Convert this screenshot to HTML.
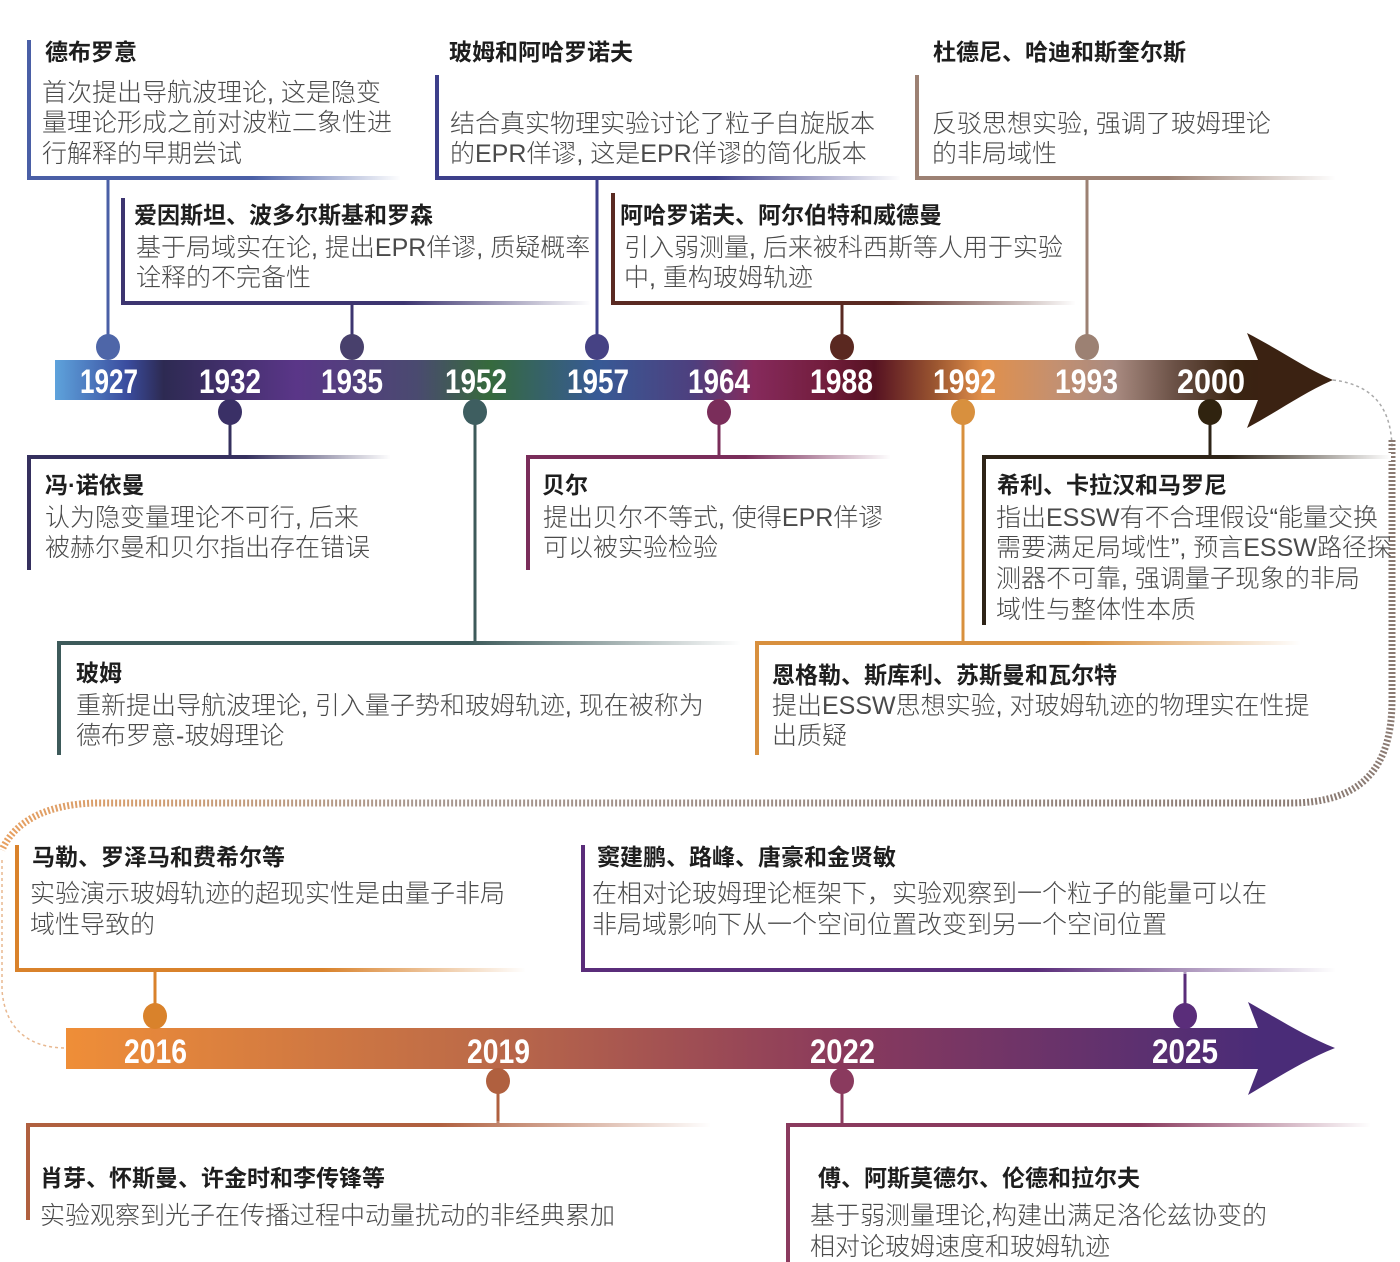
<!DOCTYPE html>
<html><head><meta charset="utf-8"><style>
html,body{margin:0;padding:0;background:#fff;}
svg{display:block;}
.t{font-family:"Liberation Sans","Noto Sans CJK SC",sans-serif;font-weight:bold;font-size:23px;fill:#1e1e1e;}
.b{font-family:"Liberation Sans","Noto Sans CJK SC",sans-serif;font-size:25px;fill:#4a4a4a;font-weight:300;}
.y{font-family:"Liberation Sans",sans-serif;font-weight:bold;font-size:34px;fill:#fff;}
</style></head><body>
<svg width="1400" height="1262" viewBox="0 0 1400 1262" xmlns="http://www.w3.org/2000/svg">
<defs>
<linearGradient id="bar1" x1="55" x2="1260" y1="0" y2="0" gradientUnits="userSpaceOnUse">
<stop offset="0" stop-color="#5ea3dc"/>
<stop offset="0.06" stop-color="#3a4c9e"/>
<stop offset="0.09" stop-color="#2d2a52"/>
<stop offset="0.2" stop-color="#5a3688"/>
<stop offset="0.3" stop-color="#4a4a70"/>
<stop offset="0.36" stop-color="#366a3c"/>
<stop offset="0.45" stop-color="#375a96"/>
<stop offset="0.53" stop-color="#4e3f7e"/>
<stop offset="0.58" stop-color="#862a5c"/>
<stop offset="0.64" stop-color="#721d3c"/>
<stop offset="0.68" stop-color="#561222"/>
<stop offset="0.73" stop-color="#9a5530"/>
<stop offset="0.77" stop-color="#e2904a"/>
<stop offset="0.83" stop-color="#c49070"/>
<stop offset="0.88" stop-color="#a88a80"/>
<stop offset="0.93" stop-color="#6a5045"/>
<stop offset="0.98" stop-color="#3a2412"/>
<stop offset="1" stop-color="#3a2212"/>
</linearGradient>
<linearGradient id="bar2" x1="66" x2="1260" y1="0" y2="0" gradientUnits="userSpaceOnUse">
<stop offset="0" stop-color="#ef8e38"/>
<stop offset="0.35" stop-color="#bc6a48"/>
<stop offset="0.65" stop-color="#8a3a5c"/>
<stop offset="1" stop-color="#4a2c78"/>
</linearGradient>
<linearGradient id="fadeR" x1="0" x2="1" y1="0" y2="0">
<stop offset="0" stop-color="#fff" stop-opacity="0"/>
<stop offset="0.6" stop-color="#fff" stop-opacity="0"/>
<stop offset="1" stop-color="#fff" stop-opacity="1"/>
</linearGradient>
<linearGradient id="dash2" x1="0" x2="1400" y1="0" y2="0" gradientUnits="userSpaceOnUse">
<stop offset="0" stop-color="#e8a060"/>
<stop offset="0.3" stop-color="#a89890"/>
<stop offset="1" stop-color="#8a7a72"/>
</linearGradient>
</defs>

<path d="M1333,380 C1375,385 1392,410 1392,450" fill="none" stroke="#aaa" stroke-width="1.5" stroke-dasharray="3 3"/>
<path d="M1392,440 L1392,700 C1392,770 1360,803 1290,803 L100,803 C50,803 15,820 2,850" fill="none" stroke="url(#dash2)" stroke-width="7" stroke-dasharray="2 2"/>
<path d="M2,860 L2,990 C5,1030 30,1048 66,1048" fill="none" stroke="#e8b890" stroke-width="1.5" stroke-dasharray="3 3"/>

<rect x="55" y="360" width="1205" height="40" fill="url(#bar1)"/>
<path d="M1258,360 L1247,333 C1280,350 1305,368 1333,380 C1305,392 1280,410 1247,428 L1258,400 Z" fill="#3b2212"/>
<rect x="66" y="1028" width="1194" height="41" fill="url(#bar2)"/>
<path d="M1258,1028 L1248,1002 C1280,1020 1305,1036 1335,1048 C1305,1060 1280,1076 1248,1095 L1258,1069 Z" fill="#4a2c78"/>

<g class="y">
<text x="80" y="393" textLength="58" lengthAdjust="spacingAndGlyphs">1927</text>
<text x="199" y="393" textLength="62" lengthAdjust="spacingAndGlyphs">1932</text>
<text x="321" y="393" textLength="62" lengthAdjust="spacingAndGlyphs">1935</text>
<text x="445" y="393" textLength="62" lengthAdjust="spacingAndGlyphs">1952</text>
<text x="567" y="393" textLength="62" lengthAdjust="spacingAndGlyphs">1957</text>
<text x="688" y="393" textLength="62" lengthAdjust="spacingAndGlyphs">1964</text>
<text x="810" y="393" textLength="63" lengthAdjust="spacingAndGlyphs">1988</text>
<text x="933" y="393" textLength="63" lengthAdjust="spacingAndGlyphs">1992</text>
<text x="1055" y="393" textLength="63" lengthAdjust="spacingAndGlyphs">1993</text>
<text x="1177" y="393" textLength="68" lengthAdjust="spacingAndGlyphs">2000</text>
<text x="124" y="1063" textLength="63" lengthAdjust="spacingAndGlyphs">2016</text>
<text x="467" y="1063" textLength="63" lengthAdjust="spacingAndGlyphs">2019</text>
<text x="810" y="1063" textLength="65" lengthAdjust="spacingAndGlyphs">2022</text>
<text x="1152" y="1063" textLength="66" lengthAdjust="spacingAndGlyphs">2025</text>
</g>

<g fill="none" stroke-width="4">
<path d="M29,40 L29,178 L400,178" stroke="#4a5fa6"/>
<line x1="108" y1="178" x2="108" y2="347" stroke="#4a5fa6" stroke-width="3"/>
<path d="M437,75 L437,178 L900,178" stroke="#3d3f8a"/>
<line x1="597" y1="178" x2="597" y2="347" stroke="#3d3f8a" stroke-width="3"/>
<path d="M917,75 L917,178 L1335,178" stroke="#9c8173"/>
<line x1="1087" y1="178" x2="1087" y2="347" stroke="#9c8173" stroke-width="3"/>
<path d="M123,198 L123,303 L590,303" stroke="#3d3570"/>
<line x1="352" y1="303" x2="352" y2="347" stroke="#3d3570" stroke-width="3"/>
<path d="M613,193 L613,303 L1075,303" stroke="#5a2a22"/>
<line x1="842" y1="303" x2="842" y2="347" stroke="#5a2a22" stroke-width="3"/>
<path d="M29,570 L29,457 L390,457" stroke="#35305e"/>
<line x1="230" y1="412" x2="230" y2="457" stroke="#35305e" stroke-width="3"/>
<path d="M528,570 L528,457 L890,457" stroke="#7a2d5a"/>
<line x1="719" y1="412" x2="719" y2="457" stroke="#7a2d5a" stroke-width="3"/>
<path d="M984,625 L984,457 L1390,457" stroke="#2e2418"/>
<line x1="1210" y1="412" x2="1210" y2="457" stroke="#2e2418" stroke-width="3"/>
<path d="M59,755 L59,643 L740,643" stroke="#3d5a5a"/>
<line x1="475" y1="412" x2="475" y2="643" stroke="#3d5a5a" stroke-width="3"/>
<path d="M757,755 L757,643 L1300,643" stroke="#d8903e"/>
<line x1="963" y1="412" x2="963" y2="643" stroke="#d8903e" stroke-width="3"/>
<path d="M17,845 L17,970 L525,970" stroke="#d9822b"/>
<line x1="155" y1="970" x2="155" y2="1016" stroke="#d9822b" stroke-width="3"/>
<path d="M583,845 L583,970 L1335,970" stroke="#5a2d7a"/>
<line x1="1185" y1="970" x2="1185" y2="1016" stroke="#5a2d7a" stroke-width="3"/>
<path d="M28,1220 L28,1125 L710,1125" stroke="#b0603f"/>
<line x1="498" y1="1081" x2="498" y2="1125" stroke="#b0603f" stroke-width="3"/>
<path d="M788,1262 L788,1125 L1370,1125" stroke="#8a3a5e"/>
<line x1="842" y1="1081" x2="842" y2="1125" stroke="#8a3a5e" stroke-width="3"/>
</g>
<g fill="url(#fadeR)">
<rect x="29" y="174" width="372" height="8"/>
<rect x="437" y="174" width="464" height="8"/>
<rect x="917" y="174" width="419" height="8"/>
<rect x="123" y="299" width="468" height="8"/>
<rect x="613" y="299" width="463" height="8"/>
<rect x="29" y="453" width="362" height="8"/>
<rect x="528" y="453" width="363" height="8"/>
<rect x="984" y="453" width="407" height="8"/>
<rect x="59" y="639" width="682" height="8"/>
<rect x="757" y="639" width="544" height="8"/>
<rect x="17" y="966" width="509" height="8"/>
<rect x="583" y="966" width="753" height="8"/>
<rect x="28" y="1121" width="683" height="8"/>
<rect x="788" y="1121" width="583" height="8"/>
</g>

<g>
<ellipse cx="108" cy="347" rx="12" ry="13" fill="#4e66a8"/>
<ellipse cx="352" cy="347" rx="12" ry="13" fill="#48406c"/>
<ellipse cx="597" cy="347" rx="12" ry="13" fill="#464284"/>
<ellipse cx="842" cy="347" rx="12" ry="13" fill="#5a2820"/>
<ellipse cx="1087" cy="347" rx="12" ry="13" fill="#9c8173"/>
<ellipse cx="230" cy="412" rx="12" ry="13" fill="#3a3066"/>
<ellipse cx="475" cy="412" rx="12" ry="13" fill="#3e5e60"/>
<ellipse cx="719" cy="412" rx="12" ry="13" fill="#7a2d5a"/>
<ellipse cx="963" cy="412" rx="12" ry="13" fill="#d8903e"/>
<ellipse cx="1210" cy="412" rx="12" ry="13" fill="#30230f"/>
<ellipse cx="155" cy="1016" rx="12" ry="13" fill="#d9822b"/>
<ellipse cx="1185" cy="1016" rx="12" ry="13" fill="#5a2d7a"/>
<ellipse cx="498" cy="1081" rx="12" ry="13" fill="#b0603f"/>
<ellipse cx="842" cy="1081" rx="12" ry="13" fill="#8a3a5e"/>
</g>

<text class="t" x="45" y="60">德布罗意</text>
<text class="b" x="42" y="101">首次提出导航波理论, 这是隐变</text>
<text class="b" x="42" y="131">量理论形成之前对波粒二象性进</text>
<text class="b" x="42" y="162">行解释的早期尝试</text>

<text class="t" x="449" y="60">玻姆和阿哈罗诺夫</text>
<text class="b" x="450" y="132">结合真实物理实验讨论了粒子自旋版本</text>
<text class="b" x="450" y="162">的EPR佯谬, 这是EPR佯谬的简化版本</text>

<text class="t" x="933" y="60">杜德尼、哈迪和斯奎尔斯</text>
<text class="b" x="932" y="132">反驳思想实验, 强调了玻姆理论</text>
<text class="b" x="932" y="162">的非局域性</text>

<text class="t" x="134" y="223">爱因斯坦、波多尔斯基和罗森</text>
<text class="b" x="136" y="256">基于局域实在论, 提出EPR佯谬, 质疑概率</text>
<text class="b" x="136" y="286">诠释的不完备性</text>

<text class="t" x="620" y="223">阿哈罗诺夫、阿尔伯特和威德曼</text>
<text class="b" x="624" y="256">引入弱测量, 后来被科西斯等人用于实验</text>
<text class="b" x="624" y="286">中, 重构玻姆轨迹</text>

<text class="t" x="45" y="493">冯·诺依曼</text>
<text class="b" x="45" y="526">认为隐变量理论不可行, 后来</text>
<text class="b" x="45" y="556">被赫尔曼和贝尔指出存在错误</text>

<text class="t" x="542" y="493">贝尔</text>
<text class="b" x="543" y="526">提出贝尔不等式, 使得EPR佯谬</text>
<text class="b" x="543" y="556">可以被实验检验</text>

<text class="t" x="997" y="493">希利、卡拉汉和马罗尼</text>
<text class="b" x="996" y="526">指出ESSW有不合理假设“能量交换</text>
<text class="b" x="996" y="556">需要满足局域性”, 预言ESSW路径探</text>
<text class="b" x="996" y="587">测器不可靠, 强调量子现象的非局</text>
<text class="b" x="996" y="618">域性与整体性本质</text>

<text class="t" x="76" y="681">玻姆</text>
<text class="b" x="76" y="714">重新提出导航波理论, 引入量子势和玻姆轨迹, 现在被称为</text>
<text class="b" x="76" y="744">德布罗意-玻姆理论</text>

<text class="t" x="772" y="683">恩格勒、斯库利、苏斯曼和瓦尔特</text>
<text class="b" x="772" y="714">提出ESSW思想实验, 对玻姆轨迹的物理实在性提</text>
<text class="b" x="772" y="744">出质疑</text>

<text class="t" x="32" y="865">马勒、罗泽马和费希尔等</text>
<text class="b" x="30" y="902">实验演示玻姆轨迹的超现实性是由量子非局</text>
<text class="b" x="30" y="933">域性导致的</text>

<text class="t" x="597" y="865">窦建鹏、路峰、唐豪和金贤敏</text>
<text class="b" x="592" y="902">在相对论玻姆理论框架下，实验观察到一个粒子的能量可以在</text>
<text class="b" x="592" y="933">非局域影响下从一个空间位置改变到另一个空间位置</text>

<text class="t" x="40" y="1186">肖芽、怀斯曼、许金时和李传锋等</text>
<text class="b" x="40" y="1224">实验观察到光子在传播过程中动量扰动的非经典累加</text>

<text class="t" x="818" y="1186">傅、阿斯莫德尔、伦德和拉尔夫</text>
<text class="b" x="810" y="1224">基于弱测量理论,构建出满足洛伦兹协变的</text>
<text class="b" x="810" y="1255">相对论玻姆速度和玻姆轨迹</text>
</svg>
</body></html>
